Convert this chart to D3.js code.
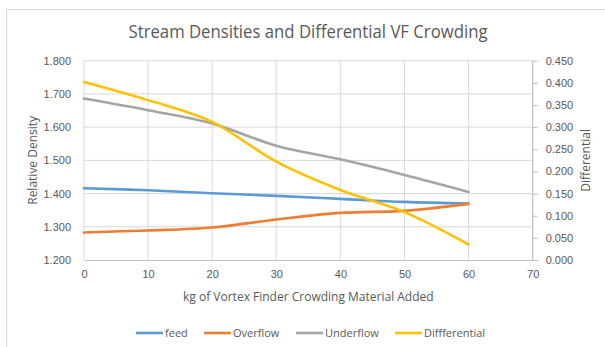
<!DOCTYPE html>
<html>
<head>
<meta charset="utf-8">
<script src="https://cdn.jsdelivr.net/npm/d3@7"></script>
<style>
  html, body { margin: 0; padding: 0; background: #fff; }
  svg { display: block; font-family: "Open Sans", "Liberation Sans", sans-serif; }
</style>
</head>
<body>
<svg id="chart" width="605" height="347"></svg>
<script>
// kg of crowding material added
const kgAdded = [0, 10, 20, 30, 40, 50, 60];

// relative densities of each stream
const feed = [1.416, 1.410, 1.401, 1.393, 1.384, 1.375, 1.370];
const overflow = [1.283, 1.289, 1.298, 1.322, 1.342, 1.348, 1.369];
const underflow = [1.686, 1.651, 1.611, 1.544, 1.503, 1.456, 1.405];

// underflow minus overflow, plotted on the secondary axis
const differential = [0.402, 0.361, 0.312, 0.222, 0.158, 0.108, 0.035];

const xTicks = [0, 10, 20, 30, 40, 50, 60, 70];
const leftTicks = [1.2, 1.3, 1.4, 1.5, 1.6, 1.7, 1.8];
const rightTicks = [0, 0.05, 0.1, 0.15, 0.2, 0.25, 0.3, 0.35, 0.4, 0.45];

const seriesNames = ["feed", "Overflow", "Underflow", "Diffferential"];
const seriesColors = ["#5B9BD5", "#ED7D31", "#A5A5A5", "#FFC000"];

const svg = d3.select("#chart");
const textColor = "#595959";

// outer chart frame
svg.append("rect")
  .attr("x", 6.5).attr("y", 9.5)
  .attr("width", 640).attr("height", 400)
  .attr("fill", "none").attr("stroke", "#D9D9D9");

const x = d3.scaleLinear().domain([0, 70]).range([84, 532.7]);
const yL = d3.scaleLinear().domain([1.2, 1.8]).range([260, 60.7]);
const yR = d3.scaleLinear().domain([0, 0.45]).range([260, 60.7]);

// horizontal gridlines
svg.append("g")
  .selectAll("line")
  .data(leftTicks.slice(1))
  .join("line")
  .attr("x1", x(0)).attr("x2", x(70))
  .attr("y1", d => yL(d)).attr("y2", d => yL(d))
  .attr("stroke", "#D9D9D9").attr("stroke-width", 1);

// vertical gridlines
svg.append("g")
  .selectAll("line")
  .data(xTicks)
  .join("line")
  .attr("x1", d => x(d)).attr("x2", d => x(d))
  .attr("y1", yL(1.8)).attr("y2", yL(1.2))
  .attr("stroke", "#D9D9D9").attr("stroke-width", 1);

// bottom axis
const xAxis = d3.axisBottom(x).tickValues(xTicks).tickSize(0).tickPadding(10)
  .tickFormat(d3.format("d"));
const gx = svg.append("g").attr("transform", `translate(0,${yL(1.2)})`).call(xAxis);
gx.select(".domain").attr("stroke", "#BFBFBF");
gx.selectAll("text").attr("fill", textColor).style("font-size", "11px");

// left axis (no axis line)
const yAxisL = d3.axisLeft(yL).tickValues(leftTicks).tickSize(0).tickPadding(13)
  .tickFormat(d3.format(".3f"));
const gyl = svg.append("g").attr("transform", `translate(${x(0)},0)`).call(yAxisL);
gyl.select(".domain").remove();
gyl.selectAll("text").attr("fill", textColor).style("font-size", "11px");

// right axis with outside ticks
const yAxisR = d3.axisRight(yR).tickValues(rightTicks).tickSize(5).tickPadding(8)
  .tickFormat(d3.format(".3f"));
const gyr = svg.append("g").attr("transform", `translate(${x(70)},0)`).call(yAxisR);
gyr.select(".domain").attr("stroke", "#BFBFBF").attr("d", `M0,${yR(0.45)}V${yR(0)}`);
gyr.selectAll(".tick line").attr("stroke", "#BFBFBF");
gyr.selectAll("text").attr("fill", textColor).style("font-size", "11px");

// series lines
const curve = d3.curveCardinal.tension(0);
const leftLine = d3.line().x((d, i) => x(kgAdded[i])).y(d => yL(d)).curve(curve);
const rightLine = d3.line().x((d, i) => x(kgAdded[i])).y(d => yR(d)).curve(curve);

const seriesData = [feed, overflow, underflow, differential];
seriesData.forEach((vals, k) => {
  svg.append("path")
    .attr("d", k === 3 ? rightLine(vals) : leftLine(vals))
    .attr("fill", "none")
    .attr("stroke", seriesColors[k])
    .attr("stroke-width", 2.6)
    .attr("stroke-linecap", "round")
    .attr("stroke-linejoin", "round");
});

// title
svg.append("text")
  .attr("x", 308).attr("y", 38)
  .attr("text-anchor", "middle")
  .attr("fill", textColor)
  .style("font-size", "18px")
  .attr("textLength", 359).attr("lengthAdjust", "spacingAndGlyphs")
  .text("Stream Densities and Differential VF Crowding");

// axis titles
svg.append("text")
  .attr("transform", `translate(37,${(yL(1.2) + yL(1.8)) / 2}) rotate(-90)`)
  .attr("text-anchor", "middle")
  .attr("fill", textColor).style("font-size", "12px")
  .text("Relative Density");

svg.append("text")
  .attr("transform", `translate(590,${(yR(0) + yR(0.45)) / 2}) rotate(-90)`)
  .attr("text-anchor", "middle")
  .attr("fill", textColor).style("font-size", "12px")
  .text("Differential");

svg.append("text")
  .attr("x", (x(0) + x(70)) / 2).attr("y", 301)
  .attr("text-anchor", "middle")
  .attr("fill", textColor).style("font-size", "12px")
  .text("kg of Vortex Finder Crowding Material Added");

// legend
const legendX = [136, 204, 296, 395];
const legend = svg.append("g");
seriesNames.forEach((name, k) => {
  legend.append("line")
    .attr("x1", legendX[k]).attr("x2", legendX[k] + 27)
    .attr("y1", 333).attr("y2", 333)
    .attr("stroke", seriesColors[k]).attr("stroke-width", 2.6);
  legend.append("text")
    .attr("x", legendX[k] + 29).attr("y", 337)
    .attr("fill", textColor).style("font-size", "11px")
    .text(name);
});
</script>
</body>
</html>
